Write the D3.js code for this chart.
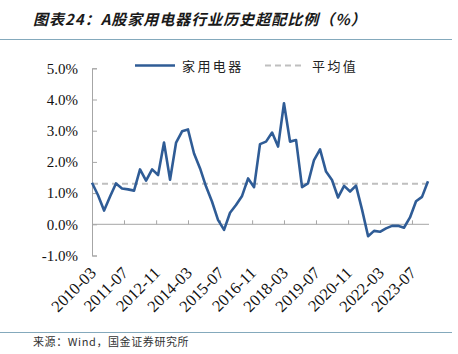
<!DOCTYPE html>
<html>
<head>
<meta charset="utf-8">
<script src="https://cdn.jsdelivr.net/npm/d3@7"></script>
<style>
  body { margin: 0; background: #fff; }
  svg { display: block; }
</style>
</head>
<body>
<div id="chart"></div>
<script>
// quarterly overweight ratio (%), 2010-03 .. 2024-03
const startMonth = '2010-03';
const values = [
  1.33, 0.93, 0.44, 0.89, 1.31, 1.15, 1.12, 1.08, 1.76, 1.40,
  1.76, 1.58, 2.62, 1.43, 2.62, 2.98, 3.04, 2.27, 1.79, 1.21,
  0.73, 0.14, -0.18, 0.37, 0.62, 0.91, 1.47, 1.19, 2.57, 2.65,
  2.94, 2.49, 3.88, 2.65, 2.70, 1.19, 1.31, 2.06, 2.40, 1.69,
  1.42, 0.86, 1.23, 1.05, 1.24, 0.47, -0.38, -0.21, -0.24, -0.13,
  -0.05, -0.05, -0.11, 0.22, 0.74, 0.88, 1.38
];
const average = 1.30;
const tickLabels = ['2010-03', '2011-07', '2012-11', '2014-03', '2015-07', '2016-11',
  '2018-03', '2019-07', '2020-11', '2022-03', '2023-07'];
const yTicks = [-1, 0, 1, 2, 3, 4, 5];
const seriesName = '家用电器';
const avgName = '平均值';

const W = 458, H = 354;
const parseMonth = d3.timeParse('%Y-%m');
const start = parseMonth(startMonth);
const dates = values.map((v, i) => d3.timeMonth.offset(start, i * 3));
const points = values.map((v, i) => ({ date: dates[i], value: v }));

const svg = d3.select('#chart').append('svg')
  .attr('width', W).attr('height', H);

// title + rules
svg.append('text')
  .attr('x', 33).attr('y', 25)
  .attr('font-family', '"Noto Sans CJK SC", sans-serif')
  .attr('font-size', 15)
  .attr('font-weight', 'bold')
  .attr('font-style', 'italic')
  .attr('letter-spacing', 1.0)
  .attr('fill', '#1a1a1a')
  .text('图表24：A股家用电器行业历史超配比例（%）');

svg.append('line')
  .attr('x1', 0).attr('x2', 452).attr('y1', 39.5).attr('y2', 39.5)
  .attr('stroke', '#84a9bc').attr('stroke-width', 1.2);
svg.append('line')
  .attr('x1', 0).attr('x2', 452).attr('y1', 332.5).attr('y2', 332.5)
  .attr('stroke', '#84a9bc').attr('stroke-width', 1.2);

svg.append('text')
  .attr('x', 33).attr('y', 346)
  .attr('font-family', '"Noto Sans CJK SC", monospace')
  .attr('font-size', 11)
  .attr('letter-spacing', 0.6)
  .attr('fill', '#333')
  .text('来源：Wind，国金证券研究所');

// scales
const x = d3.scaleTime()
  .domain([dates[0], dates[dates.length - 1]])
  .range([92, 428]);
const y = d3.scaleLinear().domain([-1, 5]).range([255.5, 68.3]);

const axisColor = '#a6a6a6';

// y axis
const yAxis = svg.append('g')
  .attr('transform', 'translate(92,0)')
  .call(d3.axisLeft(y)
    .tickValues(yTicks)
    .tickSize(-5)
    .tickSizeOuter(-5)
    .tickPadding(14)
    .tickFormat(d => d.toFixed(1) + '%'));
yAxis.select('.domain').attr('stroke', axisColor);
yAxis.selectAll('.tick line').attr('stroke', axisColor);
yAxis.selectAll('.tick text')
  .attr('font-family', '"Liberation Serif", "Times New Roman", serif')
  .attr('font-size', 15)
  .attr('fill', '#111');

// x axis on zero line, ticks pointing up
const xAxis = svg.append('g')
  .attr('transform', `translate(0,${y(0)})`)
  .call(d3.axisBottom(x)
    .tickValues(tickLabels.map(parseMonth))
    .tickSize(-4)
    .tickSizeOuter(0)
    .tickFormat(''));
xAxis.select('.domain').attr('stroke', axisColor).attr('d', `M92,0H429`);
xAxis.selectAll('.tick line').attr('stroke', axisColor);

svg.append('g').selectAll('text')
  .data(tickLabels)
  .join('text')
  .attr('transform', d => `translate(${x(parseMonth(d)) + 5},${274}) rotate(-45)`)
  .attr('text-anchor', 'end')
  .attr('font-family', '"Liberation Serif", "Times New Roman", serif')
  .attr('font-size', 16.5)
  .attr('fill', '#111')
  .text(d => d);

// average line
svg.append('line')
  .attr('x1', x(dates[0])).attr('x2', x(dates[dates.length - 1]))
  .attr('y1', y(average)).attr('y2', y(average))
  .attr('stroke', '#bfbfbf')
  .attr('stroke-width', 2)
  .attr('stroke-dasharray', '6,4');

// series
svg.append('path')
  .datum(points)
  .attr('fill', 'none')
  .attr('stroke', '#2f5c96')
  .attr('stroke-width', 2.6)
  .attr('stroke-linejoin', 'round')
  .attr('d', d3.line().x(d => x(d.date)).y(d => y(d.value)));

// legend
const legend = svg.append('g');
legend.append('line')
  .attr('x1', 135).attr('x2', 175).attr('y1', 65.5).attr('y2', 65.5)
  .attr('stroke', '#2f5c96').attr('stroke-width', 2.6);
legend.append('text')
  .attr('x', 182).attr('y', 70.5)
  .attr('font-family', '"Noto Sans CJK SC", sans-serif')
  .attr('font-size', 13)
  .attr('letter-spacing', 2.4)
  .attr('fill', '#222')
  .text(seriesName);
legend.append('line')
  .attr('x1', 265).attr('x2', 303).attr('y1', 65.5).attr('y2', 65.5)
  .attr('stroke', '#bfbfbf').attr('stroke-width', 2)
  .attr('stroke-dasharray', '6,4');
legend.append('text')
  .attr('x', 312).attr('y', 70.5)
  .attr('font-family', '"Noto Sans CJK SC", sans-serif')
  .attr('font-size', 13)
  .attr('letter-spacing', 2.4)
  .attr('fill', '#222')
  .text(avgName);
</script>
</body>
</html>
